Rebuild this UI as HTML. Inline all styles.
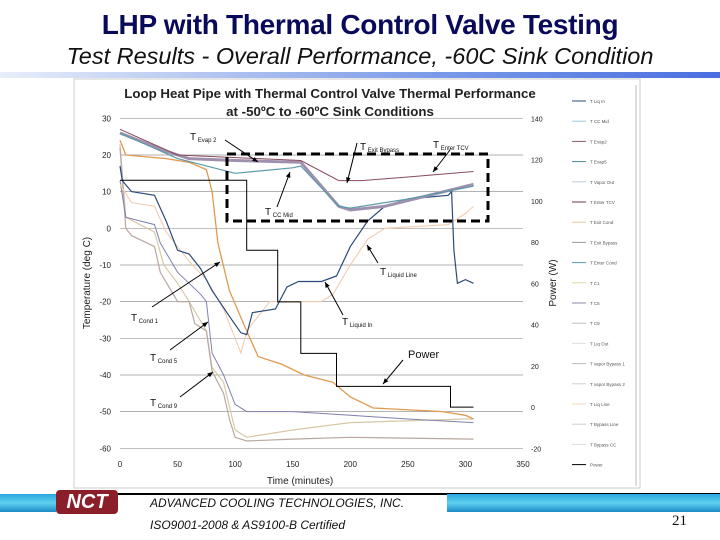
<!DOCTYPE html>
<html><head><meta charset="utf-8"><style>
body{margin:0;width:720px;height:540px;overflow:hidden;background:#fff;font-family:"Liberation Sans",sans-serif;position:relative}
.abs{position:absolute}
</style></head><body>
<div class="abs" style="left:0;top:9px;width:720px;text-align:center;font-weight:bold;font-size:28px;color:#0a0a5a;letter-spacing:-0.3px">LHP with Thermal Control Valve Testing</div>
<div class="abs" style="left:0;top:43px;width:720px;text-align:center;font-style:italic;font-size:23.5px;color:#111">Test Results - Overall Performance, -60C Sink Condition</div>
<div class="abs" style="left:0;top:72px;width:720px;height:6px;background:linear-gradient(90deg,#e8eefa,#7b9be8 60%,#4a6ee0)"></div>

<svg class="abs" style="left:0;top:0" width="720" height="540">
<rect x="74" y="79" width="566" height="409" fill="#fff" stroke="#ccc"/>
<g font-family="Liberation Sans,sans-serif" font-weight="bold" font-size="13.3" fill="#222" text-anchor="middle">
<text x="330" y="98">Loop Heat Pipe with Thermal Control Valve Thermal Performance</text>
<text x="330" y="116">at -50ºC to -60ºC Sink Conditions</text>
</g>
<g id="grid"></g><g id="series"></g><g id="ann"></g><g id="legend"></g>
<line x1="636" y1="85" x2="636" y2="486" stroke="#bbb"/>
<text x="300" y="484" text-anchor="middle" font-size="10" font-family="Liberation Sans,sans-serif" fill="#222">Time (minutes)</text>
<text transform="translate(90,283) rotate(-90)" text-anchor="middle" font-size="10" font-family="Liberation Sans,sans-serif" fill="#222">Temperature (deg C)</text>
<text transform="translate(556,283) rotate(-90)" text-anchor="middle" font-size="10" font-family="Liberation Sans,sans-serif" fill="#222">Power (W)</text>
<rect x="227" y="154" width="261" height="67" fill="none" stroke="#000" stroke-width="3" stroke-dasharray="9,5"/>
</svg>

<div class="abs" style="left:0;top:494px;width:56px;height:18px;background:linear-gradient(180deg,#2aa6e0,#5fd0ef,#1b8ac8)"></div>
<div class="abs" style="left:118px;top:493px;width:602px;height:2px;background:#000"></div>
<div class="abs" style="left:447px;top:494px;width:273px;height:18px;background:linear-gradient(180deg,#2aa6e0,#5fd0ef,#1b8ac8)"></div>
<div class="abs" style="left:56px;top:490px;width:62px;height:24px;background:#8a1f2a;border-radius:4px;color:#fff;font-weight:bold;font-style:italic;font-size:20px;line-height:24px;text-align:center">NCT</div>
<div class="abs" style="left:150px;top:496px;font-style:italic;font-size:12px;color:#111">ADVANCED COOLING TECHNOLOGIES, INC.</div>
<div class="abs" style="left:150px;top:518px;font-style:italic;font-size:12px;color:#111">ISO9001-2008 &amp; AS9100-B Certified</div>
<div class="abs" style="left:672px;top:513px;font-family:'Liberation Serif',serif;font-size:15px;color:#111">21</div>

<script>
const xTicks=[0,50,100,150,200,250,300,350];
const yTicks=[30,20,10,0,-10,-20,-30,-40,-50,-60];
const y2Ticks=[140,120,100,80,60,40,20,0,-20];
const powerT=[0,110,110,137,137,157,157,188,188,287,287,307];
const powerW=[110,110,76,76,51,51,26,26,10,10,0,0];
const evap2T=[0,40,60,100,157,190,200,230,307];
const evap2V=[26,21,19,18.5,18,6,5,6,12];
const enterTcvT=[0,50,157,190,210,250,307];
const enterTcvV=[27,20,18.5,13,13,14,15.5];
const ccMidT=[0,50,100,150,157,190,200,250,307];
const ccMidV=[26,19,15,16.5,17,6,5.5,8,11.5];
const liqInT=[0,2,10,30,40,50,60,70,80,95,105,110,115,135,145,155,175,188,200,215,230,250,285,288,290,293,300,307];
const liqInV=[17,13,10,9,2,-6,-7,-11,-17,-24,-28.5,-29,-23,-22,-16,-14.5,-14.5,-13,-5,2,6,8,9,10,-6,-15,-14,-15];
const liqLineT=[0,10,30,40,60,75,90,100,105,110,130,175,185,200,215,230,285,300,307];
const liqLineV=[12,7,6,-1,-9,-14,-22,-30,-34,-28,-20,-20,-18,-10,-3,0,1,4,6];
const exitCondT=[0,5,40,60,75,80,85,95,110,120,140,160,185,200,220,280,300,307];
const exitCondV=[24,20,19,18,16,10,-4,-17,-28,-35,-37,-40,-42,-46,-49,-50,-51,-52];
const c1T=[0,5,10,30,35,50,60,65,75,80,90,95,100,110,150,200,307];
const c1V=[22,0,-2,-5,-12,-20,-20,-26,-28,-39,-45,-52,-57,-58,-57.5,-57,-57.5];
const c5T=[0,5,30,35,50,60,70,75,80,90,100,110,150,200,250,307];
const c5V=[13,3,1,-4,-12,-15,-18,-20,-34,-40,-48,-50,-50,-51,-52,-53];
const c9T=[0,5,30,38,50,60,75,80,90,100,110,150,200,300,307];
const c9V=[23,3,-1,-10,-15,-20,-28,-38,-42,-55,-57,-55,-53,-52,-52];
const legendNames=["T Liq In","T CC Mid","T Evap2","T Evap5","T Vapor Out","T Enter TCV","T Exit Cond","T Exit Bypass","T Enter Cond","T C1","T C5","T C9","T Liq Out","T vapor Bypass 1","T vapor Bypass 2","T Liq Line","T Bypass Line","T Bypass CC","Power"];
const legendColors=["#2b4a7a","#9cc8d8","#8a5a6a","#4a8a9a","#bcd","#6a3a4a","#e8c8a0","#999","#5a9aaa","#e0d8a0","#8888a8","#bbb","#e0e0e0","#bbb","#ccd","#f0d8b8","#ccc","#ddd","#000"];

const NS="http://www.w3.org/2000/svg";
const X=t=>120+t*(403/350);
const Y=v=>118.3+(30-v)*(330/90);
const Y2=p=>118.3+(140-p)*(330/160);
function mk(tag,at,parent){const e=document.createElementNS(NS,tag);for(const k in at)e.setAttribute(k,at[k]);parent.appendChild(e);return e;}
const grid=document.getElementById('grid');
yTicks.forEach(v=>{
  const l=mk('line',{x1:120,x2:523,y1:Y(v),y2:Y(v),stroke:'#999','stroke-width':0.7},grid);
  
  
  const t=mk('text',{x:111,y:Y(v)+3,'text-anchor':'end','font-size':8,'font-family':'Liberation Sans,sans-serif',fill:'#222'},grid);
  t.textContent=v;
  
  
});
y2Ticks.forEach(v=>{
  const t=mk('text',{x:531,y:Y2(v)+3,'font-size':7,'font-family':'Liberation Sans,sans-serif',fill:'#222'},grid);
  t.textContent=v;
  
  
});
xTicks.forEach(v=>{
  const t=mk('text',{x:X(v),y:467,'text-anchor':'middle','font-size':8,'font-family':'Liberation Sans,sans-serif',fill:'#222'},grid);
  t.textContent=v;
  
  
});
const sg=document.getElementById('series');
function series(ts,vs,yf,color,w,name){
  const d=ts.map((t,i)=>(i?'L':'M')+X(t).toFixed(1)+','+yf(vs[i]).toFixed(1)).join('');
  const p=mk('path',{d:d,fill:'none',stroke:color,'stroke-width':w},sg);
  
  
}
series(c9T,c9V,Y,'#d8c8a8',1.2,'line-t-c9');
series(c1T,c1V,Y,'#b8a8a0',1.2,'line-t-c1');
series(c5T,c5V,Y,'#8080b0',1,'line-t-c5');
series(exitCondT,exitCondV,Y,'#e09a50',1.3,'line-t-exit-cond');
series(liqLineT,liqLineV,Y,'#f0c8a8',1,'line-t-liquid-line');
series(liqInT,liqInV,Y,'#2b4a7a',1.2,'line-t-liquid-in');
series(evap2T,evap2V,Y,'#a090b0',3,'line-t-evap2');
series(ccMidT,ccMidV,Y,'#5a9aaa',1.2,'line-t-cc-mid');
series(enterTcvT,enterTcvV,Y,'#8a4a5a',1,'line-t-enter-tcv');
series(powerT,powerW,Y2,'#000',1,'line-power');

const ann=document.getElementById('ann');
const labels=[["T","Evap 2",190,140,225,140,258,162],["T","Exit Bypass",360,150,357,143,347,183],["T","Enter TCV",433,148,450,150,433,172],["T","CC Mid",265,215,277,207,290,172],["T","Liquid Line",380,275,378,263,367,245],["T","Liquid In",342,325,343,315,325,282],["","Power",408,358,403,360,383,384],["T","Cond 1",131,321,152,307,220,262],["T","Cond 5",150,361,170,350,208,322],["T","Cond 9",150,406,180,397,213,372]];
labels.forEach(a=>{
  const t=mk('text',{x:a[2],y:a[3],'font-size':a[0]?10:11,'font-family':'Liberation Sans,sans-serif',fill:'#111'},ann);
  t.innerHTML=a[0]?a[0]+'<tspan font-size="6" dy="2"> '+a[1]+'</tspan>':a[1];
  
  
  const l=mk('line',{x1:a[4],y1:a[5],x2:a[6],y2:a[7],stroke:'#000','stroke-width':1},ann);
  
  
  const ang=Math.atan2(a[7]-a[5],a[6]-a[4]);
  const h=mk('path',{d:`M${a[6]},${a[7]}L${a[6]-6*Math.cos(ang-0.4)},${a[7]-6*Math.sin(ang-0.4)}L${a[6]-6*Math.cos(ang+0.4)},${a[7]-6*Math.sin(ang+0.4)}Z`,fill:'#000'},ann);
  
  
});
const lg=document.getElementById('legend');
legendNames.forEach((n,i)=>{
  const y=101+i*20.2;
  const l=mk('line',{x1:572,x2:586,y1:y,y2:y,stroke:legendColors[i],'stroke-width':1},lg);
  
  
  const t=mk('text',{x:590,y:y+2,'font-size':4.5,'font-family':'Liberation Sans,sans-serif',fill:'#555'},lg);
  t.textContent=n;
  
  
});
</script>
</body></html>
